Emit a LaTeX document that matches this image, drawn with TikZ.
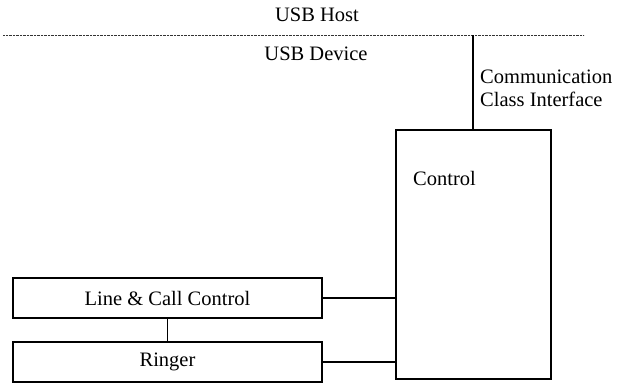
\documentclass[tikz,border=0pt]{standalone}
\usepackage{fontspec}
\setmainfont{Liberation Serif}
\begin{document}
\begin{tikzpicture}[x=1pt,y=1pt,
  every node/.style={font=\fontsize{20.5}{23}\selectfont, inner sep=0pt},
  box/.style={draw, line width=1.3pt, rectangle},
  wire/.style={line width=1.3pt},
  bus/.style={line width=0.9pt, dash pattern=on 0.8pt off 0.6pt, black!80}]
\useasboundingbox (0,0) rectangle (621,383);
% bus line
\coordinate (busL) at (3,347.5);
\coordinate (busR) at (584,347.5);
\coordinate (tap) at (473,347.5);
\draw[bus] (busL) -- (busR);
\node (host) at (317,368) {USB Host};
\node (dev) at (316,329.5) {USB Device};
% boxes
\node[box, minimum width=155pt, minimum height=249pt] (ctrl) at (473.5,128.5) {};
\node[anchor=west] (ctrltext) at (413,205) {Control};
\node[box, minimum width=309pt, minimum height=40pt] (lcc) at (167.5,85) {Line \& Call Control};
\node[box, minimum width=309pt, minimum height=40pt] (ring) at (167.5,21) {Ringer};
\node[anchor=west, align=left] (cci) at (480,295) {Communication\\Class Interface};
% connectors
\draw[wire] (tap) -- (tap |- ctrl.north);
\draw[wire] (lcc.east) -- (lcc.east -| ctrl.west);
\draw[wire] (ring.east) -- (ring.east -| ctrl.west);
\draw[wire] (lcc.south) -- (ring.north);
\end{tikzpicture}
\end{document}
